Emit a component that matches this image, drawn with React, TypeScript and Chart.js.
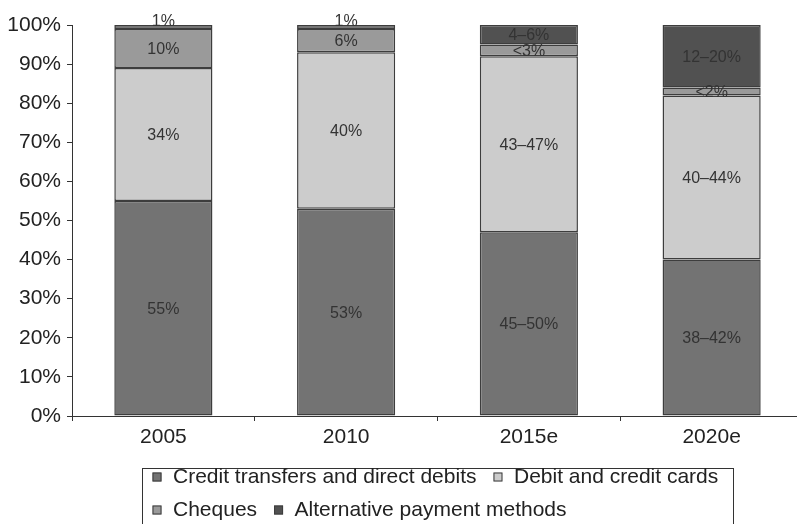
import React, { useEffect, useRef } from "react";
import { Chart, registerables } from "chart.js";

Chart.register(...registerables);

const categories = ["2005", "2010", "2015e", "2020e"];
const seriesNames = [
  "Credit transfers and direct debits",
  "Debit and credit cards",
  "Cheques",
  "Alternative payment methods",
];
const creditValues = [55, 53, 47, 40];
const cardValues = [34, 40, 45, 42];
const chequeValues = [10, 6, 3, 2];
const altValues = [1, 1, 5, 16];
const creditLabels = ["55%", "53%", "45–50%", "38–42%"];
const cardLabels = ["34%", "40%", "43–47%", "40–44%"];
const chequeLabels = ["10%", "6%", "<3%", "<2%"];
const altLabels = ["1%", "1%", "4–6%", "12–20%"];
const yTicks = [0, 10, 20, 30, 40, 50, 60, 70, 80, 90, 100];

const colors = ["#737373", "#cccccc", "#9a9a9a", "#515151"];
const FONT = "'Liberation Sans', Arial, sans-serif";
const BORDER = "#3d3d3d";

const segmentLabelPlugin = {
  id: "segmentLabels",
  afterDatasetsDraw(chart: any) {
    const ctx = chart.ctx;
    const all = [creditLabels, cardLabels, chequeLabels, altLabels];
    ctx.save();
    ctx.font = `16px ${FONT}`;
    ctx.fillStyle = "#333333";
    ctx.textAlign = "center";
    chart.data.datasets.forEach((_ds: any, di: number) => {
      const meta = chart.getDatasetMeta(di);
      meta.data.forEach((bar: any, i: number) => {
        const text = all[di][i];
        if (!text) return;
        const h = Math.abs(bar.base - bar.y);
        if (h < 6) {
          ctx.textBaseline = "alphabetic";
          ctx.fillText(text, bar.x, Math.min(bar.y, bar.base) + 1);
        } else {
          ctx.textBaseline = "middle";
          ctx.fillText(text, bar.x, (bar.y + bar.base) / 2 + 1);
        }
      });
    });
    ctx.restore();
  },
};

const boxLegendPlugin = {
  id: "boxLegend",
  afterDraw(chart: any) {
    const ctx = chart.ctx;
    const area = chart.chartArea;
    const left = area.left + 70.5;
    const top = area.bottom + 52.5;
    const right = 733.5;
    ctx.save();
    ctx.strokeStyle = "#333333";
    ctx.lineWidth = 1;
    ctx.strokeRect(left, top, right - left, 80);
    ctx.font = `21px ${FONT}`;
    ctx.textBaseline = "middle";
    ctx.textAlign = "left";
    const rows = [
      [0, 1],
      [2, 3],
    ];
    const rowY = [top + 8, top + 41];
    rows.forEach((row, ri) => {
      let x = left + 10;
      const cy = rowY[ri];
      row.forEach((di) => {
        const ds = chart.data.datasets[di];
        ctx.fillStyle = ds.backgroundColor;
        ctx.fillRect(x, cy - 4, 9, 9);
        ctx.strokeStyle = BORDER;
        ctx.lineWidth = 1;
        ctx.strokeRect(x + 0.5, cy - 3.5, 8, 8);
        x += 9 + 11.5;
        ctx.fillStyle = "#222222";
        ctx.fillText(ds.label, x, cy + 1);
        x += ctx.measureText(ds.label).width + 17;
      });
    });
    ctx.restore();
  },
};

export default function App() {
  const ref = useRef<HTMLCanvasElement | null>(null);
  useEffect(() => {
    if (!ref.current) return;
    const values = [creditValues, cardValues, chequeValues, altValues];
    const chart = new Chart(ref.current, {
      type: "bar",
      data: {
        labels: categories,
        datasets: values.map((v, i) => ({
          label: seriesNames[i],
          data: v,
          backgroundColor: colors[i],
          borderColor: BORDER,
          borderWidth: 1.5,
          borderSkipped: false,
          barPercentage: 0.537,
          categoryPercentage: 1,
        })),
      },
      options: {
        responsive: false,
        animation: false,
        devicePixelRatio: 1,
        layout: { padding: { left: 0, right: 0, top: 25, bottom: 0 } },
        font: { family: FONT },
        plugins: {
          legend: { display: false },
          tooltip: { enabled: false },
        },
        scales: {
          x: {
            stacked: true,
            grid: {
              offset: true,
              drawOnChartArea: false,
              drawTicks: true,
              tickLength: 5,
              color: "#333333",
            },
            border: { display: true, color: "#333333", width: 1 },
            ticks: {
              color: "#222222",
              font: { size: 21, family: FONT },
              padding: 4,
              maxRotation: 0,
            },
            afterFit: (s: any) => {
              s.height = 108;
            },
          },
          y: {
            stacked: true,
            min: 0,
            max: 100,
            afterBuildTicks: (s: any) => {
              s.ticks = yTicks.map((v) => ({ value: v }));
            },
            grid: {
              drawOnChartArea: false,
              drawTicks: true,
              tickLength: 5,
              color: "#333333",
            },
            border: { display: true, color: "#333333", width: 1 },
            ticks: {
              color: "#222222",
              font: { size: 21, family: FONT },
              padding: 6,
              callback: (v: any) => `${v}%`,
            },
            afterFit: (s: any) => {
              s.width = 72;
            },
          },
        },
      },
      plugins: [segmentLabelPlugin, boxLegendPlugin],
    });
    return () => chart.destroy();
  }, []);

  return (
    <div
      style={{
        position: "fixed",
        left: 0,
        top: 0,
        width: 797,
        height: 524,
        overflow: "hidden",
        background: "#ffffff",
      }}
    >
      <canvas ref={ref} width={803} height={524} style={{ display: "block" }} />
    </div>
  );
}
